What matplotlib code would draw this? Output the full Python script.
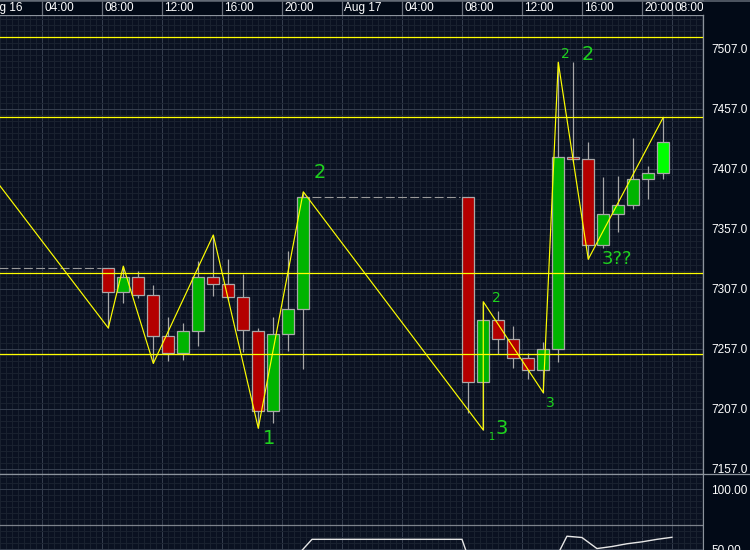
import numpy as np
import matplotlib
matplotlib.use("Agg")
import matplotlib.pyplot as plt
import matplotlib.transforms as mtransforms
from matplotlib.lines import Line2D

# ---------------- data ----------------
bars   = [8, 9, 10, 11, 12, 13, 14, 15, 16, 17, 18, 19, 20, 21,
          32, 33, 34, 35, 36, 37, 38, 39, 40, 41, 42, 43, 44, 45]
opens  = [7324.3, 7304.8, 7316.7, 7301.7, 7267.6, 7253.4, 7271.7, 7316.7, 7310.9, 7300.1, 7272.3, 7205.0, 7269.2, 7290.0,
          7383.9, 7229.2, 7280.9, 7265.1, 7249.3, 7239.3, 7256.8, 7417.3, 7415.0, 7343.7, 7369.2, 7376.7, 7398.4, 7403.7]
highs  = [7324.3, 7326.0, 7322.0, 7310.3, 7284.0, 7279.0, 7330.6, 7352.0, 7332.0, 7319.5, 7274.2, 7284.0, 7339.0, 7388.0,
          7384.0, 7296.4, 7288.7, 7276.2, 7253.4, 7262.6, 7496.0, 7496.0, 7429.2, 7400.0, 7401.2, 7432.6, 7409.5, 7450.0]
lows   = [7274.5, 7295.6, 7299.2, 7245.0, 7247.0, 7247.8, 7259.8, 7301.0, 7298.0, 7254.8, 7191.0, 7195.0, 7255.6, 7240.3,
          7203.4, 7189.5, 7252.8, 7241.4, 7232.3, 7220.6, 7246.4, 7413.0, 7331.8, 7341.0, 7354.8, 7374.0, 7382.3, 7398.7]
closes = [7304.8, 7316.7, 7301.7, 7267.6, 7253.4, 7271.7, 7316.7, 7310.9, 7300.1, 7272.6, 7205.0, 7269.2, 7290.0, 7383.9,
          7229.2, 7280.9, 7265.1, 7249.3, 7239.3, 7256.8, 7417.3, 7415.0, 7343.7, 7369.2, 7376.7, 7398.4, 7403.7, 7429.2]

zigzag_bars   = [0, 8, 9, 11, 15, 18, 21, 33, 33, 37, 38, 40, 45]
zigzag_prices = [7405.7, 7274.5, 7326.0, 7245.0, 7352.0, 7191.0, 7388.0, 7189.5, 7296.4, 7220.6, 7496.0, 7331.8, 7450.0]

level_lines = [7517.0, 7450.3, 7320.3, 7252.8]

gap_lines = [  # (x start, x end, price)
    (0.0, 7.95, 7324.3),
    (22.0, 31.87, 7383.9),
]

wave_labels = [  # (x, price, text, size)
    (22.53, 7403.7, "2", 14),
    (19.13, 7182.8, "1", 14),
    (34.31, 7299.8, "2", 10),
    (33.98, 7183.9, "1", 7),
    (34.65, 7190.9, "3", 14),
    (37.91, 7211.8, "3", 10),
    (42.31, 7331.8, "3??", 13),
    (38.91, 7502.6, "2", 10),
    (40.42, 7502.6, "2", 14),
]

time_ticks  = [0, 4, 8, 12, 16, 20, 24, 28, 32, 36, 40, 44, 46]
time_labels = ["Aug 16", "04:00", "08:00", "12:00", "16:00", "20:00", "Aug 17",
               "04:00", "08:00", "12:00", "16:00", "20:00", "08:00"]
price_ticks = [7157.0, 7207.0, 7257.0, 7307.0, 7357.0, 7407.0, 7457.0, 7507.0]

ind_x = [21, 22, 23, 24, 25, 26, 27, 28, 29, 30, 31, 32, 33, 34, 35, 36, 37, 38, 39, 40, 41, 42, 43, 44, 45, 46]
ind_y = [44.5, 58.3, 58.3, 58.3, 58.3, 58.3, 58.3, 58.3, 58.3, 58.3, 58.3, 58.3, 22.7, 20.0, 18.0, 16.0, 25.0,
         36.3, 60.9, 59.8, 50.6, 52.3, 54.6, 56.2, 58.3, 60.0]
ind_ticks = [50.0, 100.0]
ind_level = 70.0

# ---------------- style ----------------
FIG_BG = "#020a17"
AX_BG = "#0a1121"
MAJ = "#343d4d"
MIN = "#19212f"
SPINE = "#8c939c"
RED = "#b40000"
GREEN = "#00b400"
LIVE = "#00ff00"
EDGE = "#a8a8a8"
YEL = "#ffff00"
TXT_G = "#1ed21e"
W, H = 750, 550
OFF = 0.42  # candle centre offset inside hourly slot
XLIM = (1.2, 48.07)
YLIM = (7152.83, 7535.33)
ILIM = (49.4, 112.75)

plt.rcParams['font.family'] = ['Liberation Sans', 'DejaVu Sans']

fig = plt.figure(figsize=(7.5, 5.5), dpi=100, facecolor=FIG_BG)

def rect(top_px, bot_px, right_px=703):
    return [0, 1 - bot_px / H, right_px / W, (bot_px - top_px) / H]

ax = fig.add_axes(rect(15, 474), facecolor=AX_BG)
ax_top = fig.add_axes(rect(0, 15), facecolor=FIG_BG)
ax_ind = fig.add_axes(rect(474, 550), facecolor=AX_BG)

for a in (ax, ax_top, ax_ind):
    a.set_xticks(time_ticks)
    a.set_xticks(np.arange(0, 49, 0.4), minor=True)
    a.tick_params(which='both', length=0, labelbottom=False, labeltop=False,
                  labelleft=False, labelright=False)
    for s in a.spines.values():
        s.set_visible(False)

# main price axes
ax.set_yticks(price_ticks)
ax.set_yticks(np.arange(7152, 7540, 5), minor=True)
ax.grid(which='minor', color=MIN, lw=0.75)
ax.grid(which='major', color=MAJ, lw=0.75)
ax.set_axisbelow(True)
ax.yaxis.tick_right()
ax.set_yticklabels([f"{v:.1f}" for v in price_ticks])
ax.tick_params(axis='y', which='both', length=0, labelright=True, labelcolor='white',
               labelsize=8.5, pad=5.8)
for side in ('top', 'right', 'bottom'):
    ax.spines[side].set_visible(True)
    ax.spines[side].set_color(SPINE)
    ax.spines[side].set_linewidth(0.9)

# candles
bars_a = np.array(bars, dtype=float)
o = np.array(opens); h = np.array(highs); l = np.array(lows); c = np.array(closes)
ax.vlines(bars_a + OFF, l, h, color=EDGE, lw=0.9, zorder=2)
colors = [GREEN if cc >= oo else RED for oo, cc in zip(o, c)]
colors[-1] = LIVE
ax.bar(bars_a + OFF, np.abs(c - o), bottom=np.minimum(o, c), width=0.8,
       color=colors, edgecolor=EDGE, linewidth=0.9, zorder=3)

# gap dashed lines
for x0, x1, p in gap_lines:
    ax.plot([x0, x1], [p, p], color="#9a9a9a", lw=0.8, dashes=(8, 3), zorder=2)

# level lines
for p in level_lines:
    ax.axhline(p, color=YEL, lw=0.9, zorder=4)

# zigzag
ax.plot(np.array(zigzag_bars) + OFF, zigzag_prices, color=YEL, lw=0.85, zorder=5)

# wave labels
for x, p, t, s in wave_labels:
    ax.text(x, p, t, color=TXT_G, fontsize=s, ha='center', va='center',
            family=['DejaVu Sans'], zorder=6)

# top time strip
ax_top.grid(which='major', axis='x', color="#6a717c", lw=0.9)
ax_top.spines['top'].set_visible(True)
ax_top.spines['top'].set_color(SPINE)
off = mtransforms.ScaledTranslation(2.5 / 100, 0, fig.dpi_scale_trans)
trans = mtransforms.blended_transform_factory(ax_top.transData, ax_top.transAxes) + off
for t, lab in zip(time_ticks, time_labels):
    ax_top.text(t, 0.45, lab, transform=trans, color='white', fontsize=8.5,
                ha='left', va='center', clip_on=True)

# indicator panel
ax_ind.set_yticks(ind_ticks)
ax_ind.set_yticks(np.arange(50, 115, 5), minor=True)
ax_ind.grid(which='minor', color=MIN, lw=0.75)
ax_ind.grid(which='major', color=MAJ, lw=0.75)
ax_ind.set_axisbelow(True)
ax_ind.yaxis.tick_right()
ax_ind.set_yticklabels([f"{v:.2f}" for v in ind_ticks])
ax_ind.tick_params(axis='y', which='both', length=0, labelright=True, labelcolor='white',
                   labelsize=8.5, pad=5.8)
ax_ind.spines['right'].set_visible(True)
ax_ind.spines['right'].set_color(SPINE)
ax_ind.axhline(ind_level, color="#7d838c", lw=0.9)
ax_ind.plot(ind_x, ind_y, color="#e6e6e6", lw=1.0)

# limits last (setting ticks can widen the view)
for a in (ax, ax_top, ax_ind):
    a.set_xlim(*XLIM)
ax.set_ylim(*YLIM)
ax_top.set_ylim(0, 1)
ax_ind.set_ylim(*ILIM)

# full-width frame lines
fig.add_artist(Line2D([0, 1], [1 - 474 / H, 1 - 474 / H], color=SPINE, lw=0.9))
fig.add_artist(Line2D([0, 1], [1 - 0.5 / H, 1 - 0.5 / H], color="#5a626e", lw=1.2))

fig.savefig("out.png", dpi=100, facecolor=FIG_BG)
